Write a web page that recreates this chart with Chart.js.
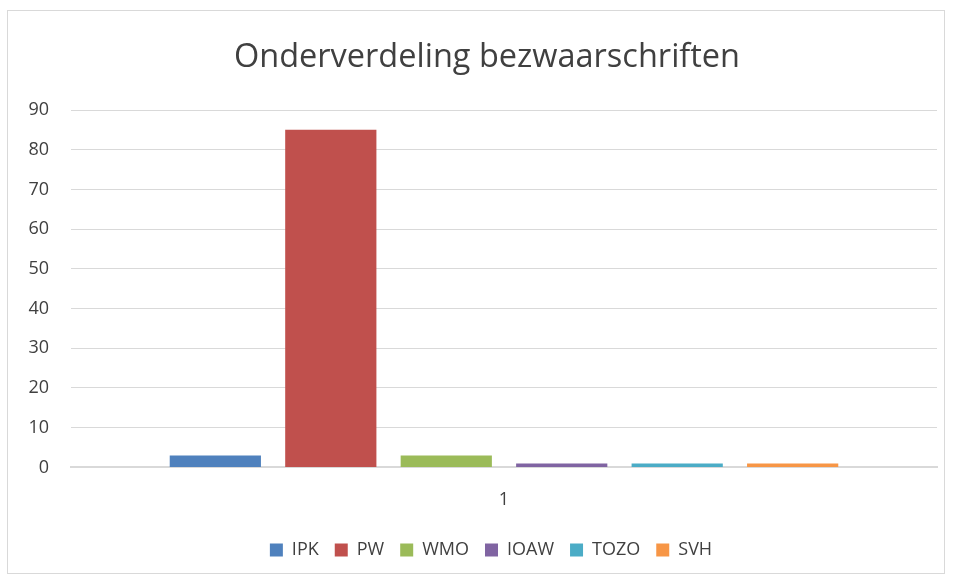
<!DOCTYPE html>
<html>
<head>
<meta charset="utf-8">
<script src="https://cdn.jsdelivr.net/npm/chart.js@4.4.0/dist/chart.umd.min.js"></script>
<style>
  html, body { margin: 0; padding: 0; background: #fff; }
  #kader {
    position: absolute; left: 7px; top: 10px;
    width: 938px; height: 564px;
    border: 1px solid #d9d9d9; box-sizing: border-box;
  }
  #grafiek { display: block; }
</style>
</head>
<body>
<div id="kader"><canvas id="grafiek" width="936" height="562"></canvas></div>
<script>
// gegevens uit de grafiek
const categorieen = ['1'];
const reeksNamen = ['IPK', 'PW', 'WMO', 'IOAW', 'TOZO', 'SVH'];
const reeksWaarden = [3, 85, 3, 1, 1, 1];
const kleuren = ['#4f81bd', '#c0504d', '#9bbb59', '#8064a2', '#4bacc6', '#f79646'];
const yTicks = [0, 10, 20, 30, 40, 50, 60, 70, 80, 90];

const lettertype = "'Open Sans', 'Liberation Sans', sans-serif";

const datasets = reeksNamen.map((naam, i) => ({
    label: naam,
    data: [reeksWaarden[i]],
    backgroundColor: kleuren[i],
    borderWidth: 0,
    categoryPercentage: 0.8,
    barPercentage: 0.79
}));

// titel en legenda staan in het origineel iets rechts van het midden
const verschuiving = {
    id: 'verschuiving',
    afterLayout(chart) {
        chart.legend.left += 9;
        chart.legend.right += 9;
        chart.titleBlock.left += 5;
        chart.titleBlock.right += 5;
    }
};

new Chart(document.getElementById('grafiek'), {
    type: 'bar',
    data: { labels: categorieen, datasets: datasets },
    plugins: [verschuiving],
    options: {
        responsive: false,
        animation: false,
        layout: { padding: { left: 19, right: 7, top: 4, bottom: 4 } },
        plugins: {
            title: {
                display: true,
                text: 'Onderverdeling bezwaarschriften',
                color: '#404040',
                font: { family: lettertype, size: 32.5, weight: 'normal' },
                padding: { top: 23, bottom: 33 }
            },
            legend: {
                position: 'bottom',
                labels: {
                    color: '#404040',
                    font: { family: lettertype, size: 18 },
                    boxWidth: 13,
                    boxHeight: 13,
                    padding: 16
                }
            },
            tooltip: { enabled: false }
        },
        scales: {
            y: {
                min: 0,
                max: 90,
                afterBuildTicks: as => { as.ticks = yTicks.map(v => ({ value: v })); },
                // vaste breedte zodat het raster op dezelfde plek begint
                afterFit: as => { as.width = 44; },
                grid: { color: '#d9d9d9', drawTicks: false, lineWidth: 1 },
                border: { display: false },
                ticks: {
                    color: '#404040',
                    padding: 22,
                    font: { family: lettertype, size: 18 }
                }
            },
            x: {
                grid: { display: false },
                border: { color: '#d9d9d9', width: 2 },
                ticks: {
                    color: '#404040',
                    padding: 14,
                    font: { family: lettertype, size: 18 }
                }
            }
        }
    }
});
</script>
</body>
</html>
